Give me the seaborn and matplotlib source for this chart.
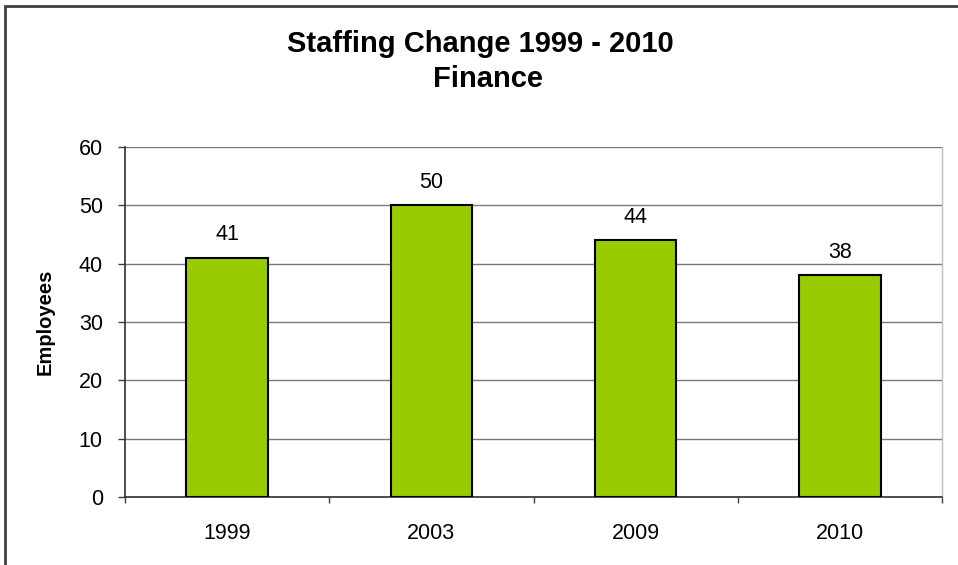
import matplotlib
matplotlib.use("Agg")
import matplotlib.pyplot as plt
from matplotlib.patches import Rectangle
import seaborn as sns
import pandas as pd

years = ["1999", "2003", "2009", "2010"]
employees = [41, 50, 44, 38]
y_ticks = [0, 10, 20, 30, 40, 50, 60]

sns.set_style("white")
plt.rcParams["font.family"] = ["Liberation Sans", "DejaVu Sans"]
plt.rcParams["text.color"] = "black"
plt.rcParams["axes.labelcolor"] = "black"
plt.rcParams["xtick.labelcolor"] = "black"
plt.rcParams["ytick.labelcolor"] = "black"

df = pd.DataFrame({"Year": years, "Employees": employees})

fig = plt.figure(figsize=(9.58, 5.65), dpi=100)
ax = fig.add_axes([125 / 958, 1 - 497 / 565, 817 / 958, 350 / 565])

sns.barplot(data=df, x="Year", y="Employees", color="#99CC00", saturation=1,
            edgecolor="black", linewidth=1.5, width=0.4, ax=ax, zorder=3)

ax.set_ylim(0, 60)
ax.set_xlim(-0.5, 3.5)
ax.set_yticks(y_ticks)
ax.yaxis.grid(True, color="#7a7a7a", linewidth=1)
ax.set_axisbelow(True)

# value labels on top of each bar
ax.bar_label(ax.containers[0], labels=[str(v) for v in employees],
             padding=9, fontsize=15.5)

# x ticks sit on category boundaries; labels stay centred under the bars
ax.tick_params(axis="x", which="major", length=0, pad=19, labelsize=15.5)
ax.set_xticks([-0.5, 0.5, 1.5, 2.5, 3.5], minor=True)
ax.tick_params(axis="x", which="minor", length=4.3, width=1, color="#404040",
               direction="out", bottom=True)
ax.tick_params(axis="y", length=5, width=1, color="#404040", direction="out",
               left=True, pad=11, labelsize=15.5)

ax.set_xlabel("")
ax.set_ylabel("Employees", fontsize=14.5, fontweight="bold")
ax.yaxis.set_label_coords(-(125 - 55) / 817, 0.5)

for side in ("left", "bottom"):
    ax.spines[side].set_color("#303030")
    ax.spines[side].set_linewidth(1.2)
ax.spines["top"].set_visible(False)
ax.spines["right"].set_color("#c0c0c0")
ax.spines["right"].set_linewidth(1)

# two-line chart title
fig.text(480 / 958, 1 - 52.5 / 565, "Staffing Change 1999 - 2010",
         ha="center", va="baseline", fontsize=21, fontweight="bold")
fig.text(488 / 958, 1 - 87 / 565, "Finance",
         ha="center", va="baseline", fontsize=21, fontweight="bold")

# chart frame (open on the right and bottom edges)
fig.patches.append(Rectangle((5 / 958, -0.1), 1.1, 1.1 - 6 / 565,
                             transform=fig.transFigure, fill=False,
                             edgecolor="#404040", linewidth=2))

fig.savefig("out.png", dpi=100)
